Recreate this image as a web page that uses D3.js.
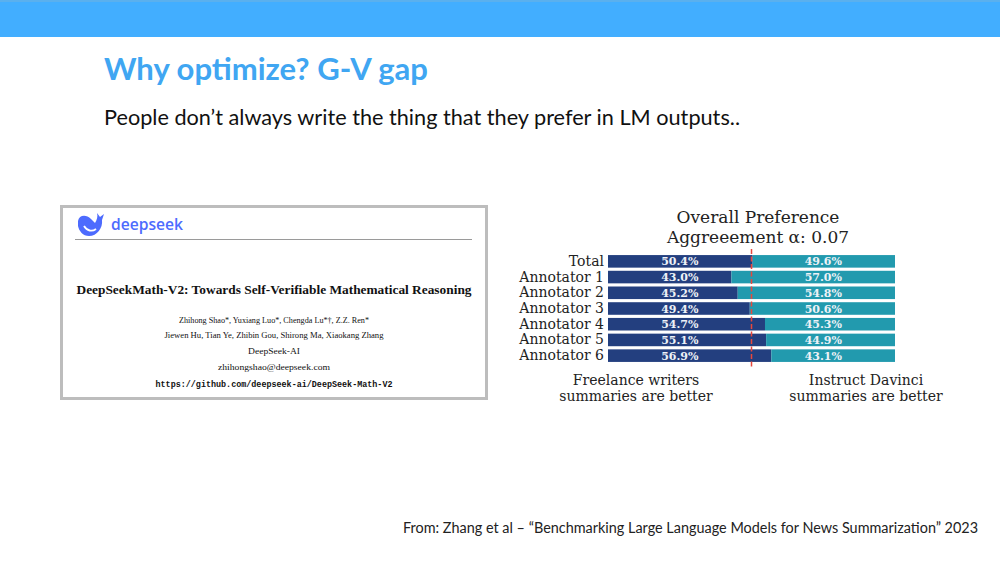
<!DOCTYPE html>
<html><head><meta charset="utf-8">
<script src="https://cdn.jsdelivr.net/npm/d3@7"></script>
<style>html,body{margin:0;padding:0;background:#fff;}svg{display:block;}</style>
</head><body>
<svg id="s" width="1000" height="563"></svg>
<script>
const categories = ["Total","Annotator 1","Annotator 2","Annotator 3","Annotator 4","Annotator 5","Annotator 6"];
const freelanceValues = [50.4, 43.0, 45.2, 49.4, 54.7, 55.1, 56.9];
const davinciValues = [49.6, 57.0, 54.8, 50.6, 45.3, 44.9, 43.1];
const chartTitle = ["Overall Preference", "Aggreeement \u03B1: 0.07"];
const leftNote = ["Freelance writers", "summaries are better"];
const rightNote = ["Instruct Davinci", "summaries are better"];

const svg = d3.select("#s");

// header band
svg.append("rect").attr("x",0).attr("y",0).attr("width",1000).attr("height",37).attr("fill","#42AEFF");
svg.append("rect").attr("x",0).attr("y",0).attr("width",1000).attr("height",2).attr("fill","#5AB0EE");
svg.append("text").attr("x",104).attr("y",80).text("Why optimize? G-V gap")
  .attr("font-family","Lato, 'Open Sans', sans-serif").attr("font-weight",700).attr("font-size",31)
  .attr("fill","#40A6F2").attr("textLength",324).attr("lengthAdjust","spacingAndGlyphs");
svg.append("text").attr("x",104).attr("y",125).text("People don\u2019t always write the thing that they prefer in LM outputs..")
  .attr("font-family","Lato, 'Open Sans', sans-serif").attr("font-size",21)
  .attr("fill","#111").attr("textLength",636).attr("lengthAdjust","spacingAndGlyphs");
svg.append("text").attr("x",403).attr("y",533).text("From: Zhang et al \u2013 \u201CBenchmarking Large Language Models for News Summarization\u201D 2023")
  .attr("font-family","Lato, 'Open Sans', sans-serif").attr("font-size",14.5)
  .attr("fill","#222").attr("textLength",575).attr("lengthAdjust","spacingAndGlyphs");

// left paper panel
const p = svg.append("g");
p.append("rect").attr("x",61.5).attr("y",206.5).attr("width",425).attr("height",192)
  .attr("fill","#fff").attr("stroke","#bdbdbd").attr("stroke-width",3);
// whale-ish logo
p.append("path").attr("d","M78,221 C79,215 86,214 91,219 L95,223 C97,220 98,216 97,213 L100,217 L104,214 L102,220 C103,228 97,236 89,236 C83,236 79,231 78,226 Z")
  .attr("fill","#4D6BFE");
p.append("path").attr("d","M84,226 C87,231 92,232 96,229").attr("stroke","#fff").attr("stroke-width",1.8).attr("fill","none");
p.append("text").attr("x",111).attr("y",230).text("deepseek").attr("font-family","'Open Sans', sans-serif")
  .attr("font-weight",600).attr("font-size",17).attr("fill","#4D6BFE").attr("textLength",72).attr("lengthAdjust","spacingAndGlyphs");
p.append("line").attr("x1",75).attr("x2",472).attr("y1",239.5).attr("y2",239.5).attr("stroke","#9a9a9a").attr("stroke-width",1);
const serif = "'Liberation Serif', 'DejaVu Serif', serif";
const paperLines = [
  {t:"DeepSeekMath-V2: Towards Self-Verifiable Mathematical Reasoning", w:395, y:294, fs:13.5, fw:700, f:serif},
  {t:"Zhihong Shao*, Yuxiang Luo*, Chengda Lu*\u2020, Z.Z. Ren*", w:190, y:323, fs:9, fw:400, f:serif},
  {t:"Jiewen Hu, Tian Ye, Zhibin Gou, Shirong Ma, Xiaokang Zhang", w:219, y:338, fs:9, fw:400, f:serif},
  {t:"DeepSeek-AI", w:52, y:354, fs:9, fw:400, f:serif},
  {t:"zhihongshao@deepseek.com", w:112, y:370, fs:9, fw:400, f:serif},
  {t:"https://github.com/deepseek-ai/DeepSeek-Math-V2", w:237, y:387, fs:9, fw:700, f:"'Liberation Mono', 'DejaVu Sans Mono', monospace"}
];
paperLines.forEach(l => {
  p.append("text").attr("x",274 - l.w/2).attr("y",l.y).text(l.t).attr("font-family",l.f).attr("font-size",l.fs)
   .attr("font-weight",l.fw).attr("fill","#111").attr("textLength",l.w).attr("lengthAdjust","spacingAndGlyphs");
});

// chart
const dj = "'DejaVu Serif', serif";
const x = d3.scaleLinear().domain([0,100]).range([608,895]);
const y = d3.scaleBand().domain(categories).range([253.5,363.5]).paddingInner(0.2).paddingOuter(0.1);
const c = svg.append("g");
c.selectAll("text.title").data(chartTitle).join("text").attr("class","title")
  .attr("x",758).attr("y",(d,i)=>223+i*20).attr("text-anchor","middle").text(d=>d)
  .attr("font-family",dj).attr("font-size",17).attr("fill","#222");
const rows = categories.map((k,i)=>({k, a:freelanceValues[i], b:davinciValues[i]}));
c.selectAll("rect.a").data(rows).join("rect").attr("class","a")
  .attr("x",x(0)).attr("y",d=>y(d.k)).attr("width",d=>x(d.a)-x(0)).attr("height",y.bandwidth()).attr("fill","#233F7F");
c.selectAll("rect.b").data(rows).join("rect").attr("class","b")
  .attr("x",d=>x(d.a)).attr("y",d=>y(d.k)).attr("width",d=>x(d.a+d.b)-x(d.a)).attr("height",y.bandwidth()).attr("fill","#229AAE");
c.selectAll("text.va").data(rows).join("text").attr("class","va")
  .attr("x",x(25)).attr("y",d=>y(d.k)+y.bandwidth()/2+4).attr("text-anchor","middle")
  .text(d=>d.a.toFixed(1)+"%").attr("font-family",dj).attr("font-weight",700).attr("font-size",11).attr("fill","#EEF2F7");
c.selectAll("text.vb").data(rows).join("text").attr("class","vb")
  .attr("x",x(75)).attr("y",d=>y(d.k)+y.bandwidth()/2+4).attr("text-anchor","middle")
  .text(d=>d.b.toFixed(1)+"%").attr("font-family",dj).attr("font-weight",700).attr("font-size",11).attr("fill","#EEF2F7");
const ax = c.append("g").attr("transform","translate(608,0)").call(d3.axisLeft(y).tickSize(0).tickPadding(4));
ax.select(".domain").remove();
ax.selectAll("text").attr("font-family",dj).attr("font-size",14).attr("fill","#222");
c.append("line").attr("x1",x(50)).attr("x2",x(50)).attr("y1",249).attr("y2",367)
  .attr("stroke","#E8473C").attr("stroke-width",1.5).attr("stroke-dasharray","5,2.5");
[[leftNote,636],[rightNote,866]].forEach(([lines,cx])=>{
  lines.forEach((t,i)=>c.append("text").attr("x",cx).attr("y",385+i*15.5).attr("text-anchor","middle").text(t)
    .attr("font-family",dj).attr("font-size",14).attr("fill","#222"));
});
</script>
</body></html>
